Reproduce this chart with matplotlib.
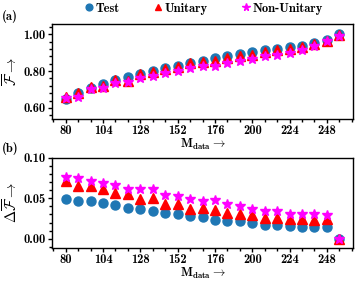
import numpy as np
import matplotlib
matplotlib.use("Agg")
import matplotlib.pyplot as plt
from matplotlib.ticker import MultipleLocator

plt.rcParams["font.family"] = ["cmb10", "DejaVu Serif"]
plt.rcParams["mathtext.fontset"] = "cm"
plt.rcParams["axes.unicode_minus"] = False
plt.rcParams["font.size"] = 9

# data
m_data = list(range(80, 257, 8))
fid_test = [0.649, 0.683, 0.706, 0.729, 0.750, 0.766, 0.783, 0.800, 0.815, 0.829, 0.843, 0.856,
            0.868, 0.879, 0.891, 0.901, 0.912, 0.917, 0.928, 0.937, 0.951, 0.968, 1.000]
fid_unitary = [0.658, 0.680, 0.715, 0.718, 0.750, 0.746, 0.785, 0.797, 0.811, 0.820, 0.841, 0.847,
               0.856, 0.873, 0.882, 0.887, 0.903, 0.912, 0.917, 0.930, 0.947, 0.965, 0.993]
fid_nonunitary = [0.653, 0.658, 0.702, 0.709, 0.736, 0.741, 0.762, 0.773, 0.790, 0.800, 0.817, 0.826,
                  0.829, 0.845, 0.857, 0.864, 0.880, 0.889, 0.898, 0.915, 0.938, 0.963, 0.990]
dfid_test = [0.049, 0.0465, 0.0465, 0.0445, 0.0417, 0.0386, 0.0366, 0.0339, 0.0323, 0.0303, 0.0276, 0.0264,
             0.0236, 0.0224, 0.0217, 0.0197, 0.0173, 0.0169, 0.0154, 0.0146, 0.0146, 0.015, 0.0]
dfid_unitary = [0.072, 0.065, 0.065, 0.061, 0.057, 0.0555, 0.049, 0.050, 0.043, 0.043, 0.037, 0.038,
                0.036, 0.0315, 0.031, 0.029, 0.0256, 0.0256, 0.0248, 0.024, 0.023, 0.025, 0.0]
dfid_nonunitary = [0.077, 0.075, 0.072, 0.069, 0.066, 0.061, 0.061, 0.061, 0.054, 0.053, 0.0496, 0.047,
                   0.048, 0.043, 0.040, 0.037, 0.034, 0.034, 0.030, 0.030, 0.030, 0.029, 0.0]
labels = ["Test", "Unitary", "Non-Unitary"]

fig = plt.figure(figsize=(3.55, 2.82), dpi=100)
ax1 = fig.add_axes([0.1465, 0.578, 0.848, 0.337])
ax2 = fig.add_axes([0.1465, 0.122, 0.848, 0.318])

styles = [dict(marker="o", color="#1f77b4", ms=6.5),
          dict(marker="^", color="red", ms=6.5),
          dict(marker="*", color="magenta", ms=7.5)]

for ax, series in ((ax1, (fid_test, fid_unitary, fid_nonunitary)),
                   (ax2, (dfid_test, dfid_unitary, dfid_nonunitary))):
    for y, st, lab in zip(series, styles, labels):
        ax.plot(m_data, y, linestyle="none", label=lab, **st)
    ax.xaxis.set_major_locator(MultipleLocator(24, offset=8))
    ax.xaxis.set_minor_locator(MultipleLocator(8))
    ax.tick_params(which="major", length=3, width=1, pad=1.5)
    ax.tick_params(which="minor", length=2, width=1)
    ax.set_xlabel(r"$\mathbf{M}_{\mathbf{data}}\rightarrow$", labelpad=0)
    for s in ax.spines.values():
        s.set_linewidth(1)

ax1.set_ylim(0.54, 1.055)
ax1.yaxis.set_major_locator(MultipleLocator(0.2))
ax1.yaxis.set_minor_locator(MultipleLocator(0.04))
ax1.yaxis.set_major_formatter(plt.FormatStrFormatter("%.2f"))
ax1.set_ylabel(r"$\overline{\mathcal{F}}\rightarrow$", labelpad=2, fontsize=10.5)

ax2.set_ylim(-0.011, 0.10)
ax2.yaxis.set_major_locator(MultipleLocator(0.05))
ax2.yaxis.set_minor_locator(MultipleLocator(0.01))
ax2.yaxis.set_major_formatter(plt.FormatStrFormatter("%.2f"))
ax2.set_ylabel(r"$\Delta\overline{\mathcal{F}}\rightarrow$", labelpad=2, fontsize=10.5)

fig.text(0.006, 0.943, "(a)", va="center")
fig.text(0.006, 0.475, "(b)", va="center")

h, l = ax1.get_legend_handles_labels()
fig.legend(h, l, loc="upper center", bbox_to_anchor=(0.575, 1.03), ncol=3, frameon=False,
           handlelength=0.6, handletextpad=0.2, columnspacing=2.8, markerscale=0.75)

fig.savefig("out.png", dpi=100)
